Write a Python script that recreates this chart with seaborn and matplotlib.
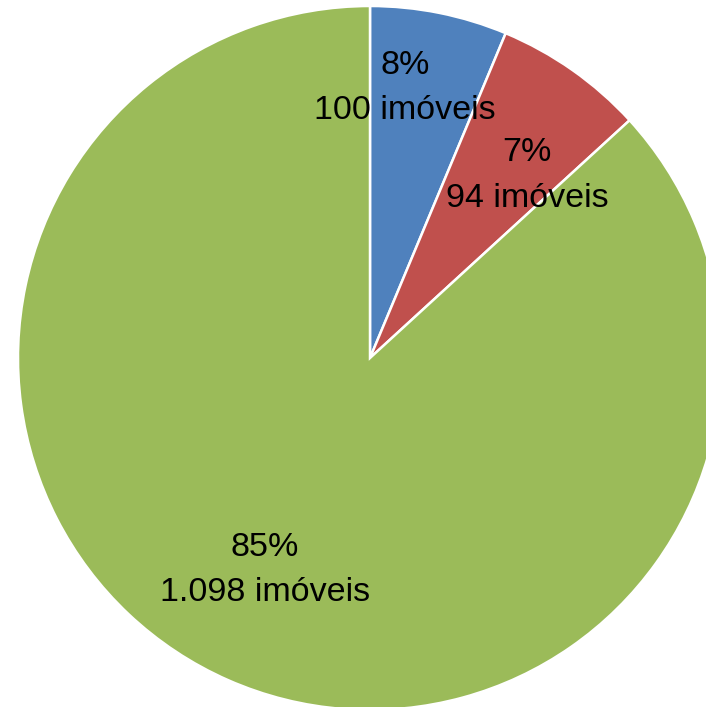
import numpy as np
import matplotlib
matplotlib.use("Agg")
import matplotlib.pyplot as plt
import seaborn as sns

# slice sizes as drawn in the picture (percent of the circle)
slice_share = [6.3, 6.9, 86.8]
# values written in the labels
label_pct = [8, 7, 85]
label_counts = ["100", "94", "1.098"]
colors = ["#4F81BD", "#C0504D", "#9BBB59"]

sns.set_theme(style="white")
plt.rcParams['font.family'] = ['Liberation Sans', 'DejaVu Sans']

fig = plt.figure(figsize=(7.06, 7.07), dpi=100)
ax = fig.add_axes([0, 0, 1, 1])

labels = [f"{p}%\n{c} imóveis" for p, c in zip(label_pct, label_counts)]

wedges, _ = ax.pie(
    slice_share, colors=colors, startangle=90, counterclock=False,
    radius=1.0, wedgeprops=dict(edgecolor="white", linewidth=1.8),
)

# label placement relative to each wedge (radius, angle nudge in degrees)
label_r = [0.782, 0.691, 0.664]
label_da = [4.0, -5.1, -2.9]
dy = -0.009  # small downward shift of the text blocks
for w, txt, r, da in zip(wedges, labels, label_r, label_da):
    ang = np.deg2rad((w.theta1 + w.theta2) / 2 + da)
    ax.text(r * np.cos(ang), r * np.sin(ang) + dy, txt, ha="center", va="center",
            fontsize=24.5, color="black", linespacing=1.6)

ax.set_xlim(-370 / 352, 336 / 352)
ax.set_ylim(-349 / 352, 358 / 352)
ax.set_aspect("auto")
ax.axis("off")

fig.savefig("out.png", dpi=100)
